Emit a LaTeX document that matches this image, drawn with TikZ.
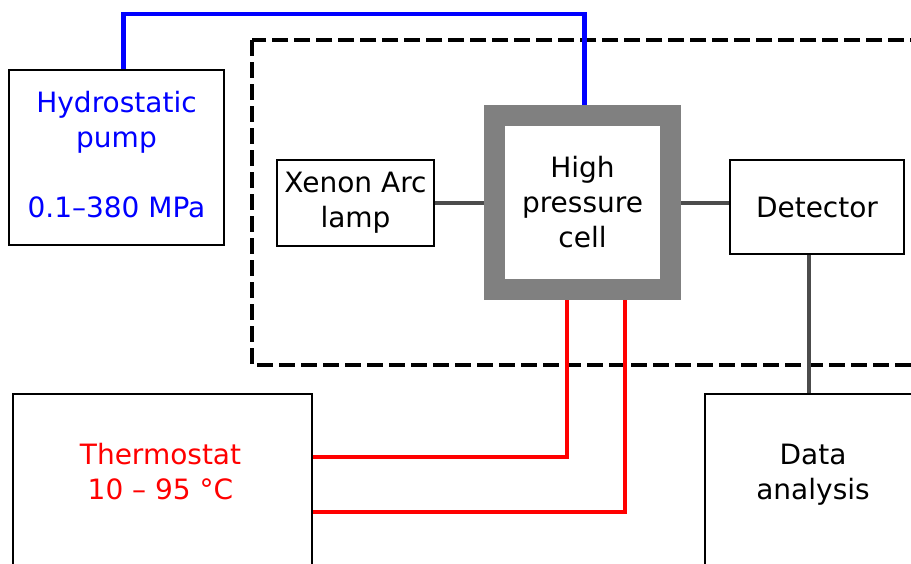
\documentclass[tikz,border=0pt]{standalone}
\usepackage{fontspec}
\setmainfont{DejaVu Sans}
\begin{document}
\begin{tikzpicture}[x=0.75pt,y=-0.75pt,
  box/.style={draw=black,line width=1.5pt,fill=white,inner sep=0pt},
  txt/.style={font=\fontsize{21pt}{26.25pt}\selectfont,align=center,inner sep=0pt},
  conn/.style={draw=black!70,line width=3.2pt},
  pipeblue/.style={draw=blue,line width=3.2pt},
  pipered/.style={draw=red,line width=3.2pt},
  frame/.style={draw=black,line width=2.6pt,dash pattern=on 12pt off 4.5pt}]
\useasboundingbox (0,0) rectangle (911,564);
% dashed enclosure
\draw[frame] (252,40) rectangle (913,365);
% boxes
\node[box,minimum width=161.25pt,minimum height=131.25pt] (pump) at (116.5,157.5) {};
\node[txt,text=blue] (pumptext) at (116.5,155) {Hydrostatic\\pump\\[26.25pt]0.1–380 MPa};
\node[box,minimum width=117.75pt,minimum height=64.5pt,txt] (lamp) at (355.5,203) {Xenon Arc\\lamp};
\node[draw=black!50,line width=15.75pt,fill=white,minimum width=132pt,minimum height=130.5pt,outer sep=7.875pt,txt] (cell) at (582.5,202.5) {High\\pressure\\cell};
\node[box,minimum width=130.5pt,minimum height=70.5pt,txt] (det) at (817,207) {Detector};
\node[box,minimum width=224.25pt,minimum height=154.5pt] (therm) at (162.5,497) {};
\node[txt,text=red] (thermtext) at (160.5,472) {Thermostat\\10 – 95 °C};
\node[box,minimum width=168.75pt,minimum height=154.5pt] (data) at (817.5,497) {};
\node[txt] (datatext) at (813,474.5) {Data\\analysis};
% coordinates
\coordinate (bl) at (123.5,14);
\coordinate (br) at (584.5,14);
\coordinate (dx) at (809,0);
\coordinate (r1) at (567,457);
\coordinate (r2) at (625,512);
% connectors
\draw[conn] (lamp.east) -- (lamp.east -| cell.west);
\draw[conn] (cell.east |- 0,203) -- (det.west |- 0,203);
\draw[conn] (dx |- det.south) -- (dx |- data.north);
\draw[pipeblue] (bl |- pump.north) -- (bl) -- (br) -- (br |- cell.north);
\draw[pipered] (r1 |- cell.south) -- (r1) -- (r1 -| therm.east);
\draw[pipered] (r2 |- cell.south) -- (r2) -- (r2 -| therm.east);
\end{tikzpicture}
\end{document}
